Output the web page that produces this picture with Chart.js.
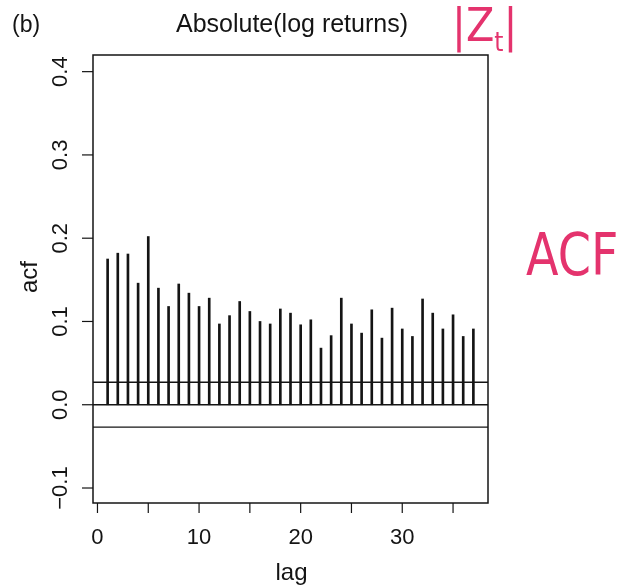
<!DOCTYPE html>
<html>
<head>
<meta charset="utf-8">
<title>Absolute(log returns) ACF</title>
<script src="https://cdn.jsdelivr.net/npm/chart.js@4.4.1/dist/chart.umd.min.js"></script>
<style>
  body { margin: 0; background: #fff; }
  #wrap { position: relative; width: 620px; height: 587px; overflow: hidden; }
  #acfChart { position: absolute; left: 0; top: 0; }
  .note {
    position: absolute;
    color: #e4336d;
    font-family: "DejaVu Sans", sans-serif;
    white-space: nowrap;
    line-height: 1;
  }
  #note-zt { left: 452px; top: 2px; font-size: 46px; transform: scaleX(0.9); transform-origin: left top; }
  #note-zt sub { font-size: 26px; }
  #note-acf { left: 526px; top: 226px; font-size: 58px; transform: scaleX(0.82); transform-origin: left top; }
</style>
</head>
<body>
<div id="wrap">
  <canvas id="acfChart" width="620" height="587"></canvas>
  <div class="note" id="note-zt">|Z<sub>t</sub>|</div>
  <div class="note" id="note-acf">ACF</div>
</div>
<script>
// data
const lags = [
  1, 2, 3, 4, 5, 6, 7, 8, 9, 10, 11, 12, 13, 14, 15, 16, 17, 18, 19,
  20, 21, 22, 23, 24, 25, 26, 27, 28, 29, 30, 31, 32, 33, 34, 35, 36, 37,
];
const acfValues = [
  0.175, 0.182, 0.181, 0.146, 0.202, 0.140, 0.118, 0.145, 0.134, 0.118,
  0.128, 0.097, 0.107, 0.124, 0.112, 0.100, 0.097, 0.115, 0.110, 0.096,
  0.102, 0.068, 0.083, 0.128, 0.097, 0.086, 0.114, 0.080, 0.116, 0.091,
  0.082, 0.127, 0.110, 0.091, 0.108, 0.082, 0.091,
];
const confBound = 0.027;
const yTicks = [-0.1, 0.0, 0.1, 0.2, 0.3, 0.4];
const yTickLabels = ["\u22120.1", "0.0", "0.1", "0.2", "0.3", "0.4"];
const xTicks = [0, 10, 20, 30];
const xMinorTicks = [5, 15, 25, 35];
const xRange = [-0.44, 38.44];
const yRange = [-0.118, 0.42];

const ink = "#141414";
const font = "'Liberation Sans', Arial, sans-serif";

function hLine(y) {
  return {
    type: "line",
    data: [{ x: xRange[0], y: y }, { x: xRange[1], y: y }],
    borderColor: ink,
    borderWidth: 1.3,
    pointRadius: 0,
  };
}

// R style box, ticks and labels
const rAxes = {
  id: "rAxes",
  afterDraw(chart) {
    const ctx = chart.ctx;
    const area = chart.chartArea;
    const xs = chart.scales.x;
    const ys = chart.scales.y;
    ctx.save();
    ctx.strokeStyle = ink;
    ctx.fillStyle = ink;
    ctx.lineWidth = 1.5;
    ctx.strokeRect(area.left, area.top, area.right - area.left, area.bottom - area.top);

    // y axis
    ctx.lineWidth = 1.2;
    ctx.font = "22px " + font;
    ctx.textAlign = "center";
    ctx.textBaseline = "middle";
    yTicks.forEach((v, i) => {
      const py = ys.getPixelForValue(v);
      ctx.beginPath();
      ctx.moveTo(area.left, py);
      ctx.lineTo(area.left - 11, py);
      ctx.stroke();
      ctx.save();
      ctx.translate(area.left - 32, py);
      ctx.rotate(-Math.PI / 2);
      ctx.fillText(yTickLabels[i], 0, 0);
      ctx.restore();
    });

    // x axis
    xTicks.concat(xMinorTicks).forEach((v) => {
      const px = xs.getPixelForValue(v);
      ctx.beginPath();
      ctx.moveTo(px, area.bottom);
      ctx.lineTo(px, area.bottom + 10);
      ctx.stroke();
    });
    xTicks.forEach((v) => {
      ctx.fillText(String(v), xs.getPixelForValue(v), area.bottom + 35);
    });

    // axis titles
    ctx.font = "24px " + font;
    ctx.textBaseline = "alphabetic";
    ctx.fillText("lag", (area.left + area.right) / 2 + 1, 580);
    ctx.save();
    ctx.translate(37, (area.top + area.bottom) / 2 - 2);
    ctx.rotate(-Math.PI / 2);
    ctx.fillText("acf", 0, 0);
    ctx.restore();

    // titles
    ctx.font = "25px " + font;
    ctx.fillText("Absolute(log returns)", 292, 32);
    ctx.font = "23px " + font;
    ctx.textAlign = "left";
    ctx.fillText("(b)", 12, 32);
    ctx.restore();
  },
};

const ctx = document.getElementById("acfChart");
new Chart(ctx, {
  type: "bar",
  data: {
    datasets: [
      {
        type: "bar",
        data: lags.map((l, i) => ({ x: l, y: acfValues[i] })),
        backgroundColor: ink,
        barThickness: 2,
      },
      hLine(0),
      hLine(confBound),
      hLine(-confBound),
    ],
  },
  options: {
    responsive: false,
    animation: false,
    layout: {
      padding: { left: 93, right: 132, top: 55, bottom: 84 },
    },
    scales: {
      x: { type: "linear", min: xRange[0], max: xRange[1], offset: false, display: false },
      y: { type: "linear", min: yRange[0], max: yRange[1], display: false },
    },
    plugins: {
      legend: { display: false },
      tooltip: { enabled: false },
    },
  },
  plugins: [rAxes],
});
</script>
</body>
</html>
